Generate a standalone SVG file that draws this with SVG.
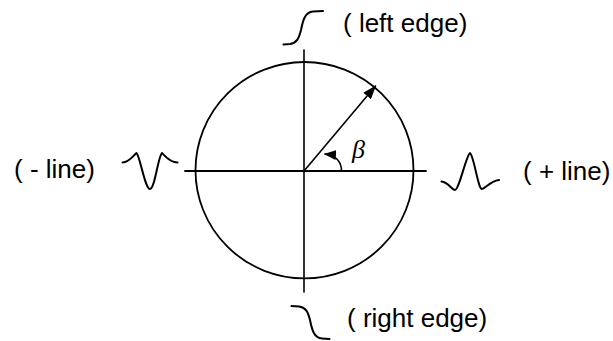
<svg xmlns="http://www.w3.org/2000/svg" width="613" height="341" viewBox="0 0 613 341">
<style>
.ln{fill:none;stroke:#000;stroke-width:1.6;stroke-linecap:round;stroke-linejoin:round}
.wv{fill:none;stroke:#000;stroke-width:2;stroke-linecap:round;stroke-linejoin:round}
.lbl{font-family:"Liberation Sans",Arial,sans-serif;font-size:26px;fill:#000}
.gr{font-family:"Liberation Serif","Times New Roman",serif;font-style:italic;font-size:26px;fill:#000}
</style>
<defs>
<marker id="ah" markerWidth="14" markerHeight="10" refX="13" refY="5" orient="auto" markerUnits="userSpaceOnUse">
<path d="M0,0 L14,5 L0,10 Z" fill="#000"/>
</marker>
<marker id="ah2" markerWidth="12" markerHeight="10" refX="11" refY="5" orient="auto" markerUnits="userSpaceOnUse">
<path d="M0,0 L12,5 L0,10 Z" fill="#000"/>
</marker>
</defs>
<rect width="613" height="341" fill="#fff"/>
<g id="circle">
<ellipse cx="304.5" cy="170.2" rx="109" ry="108.2" class="ln" style="stroke-width:1.8"/>
</g>
<g id="connectors">
<line x1="304" y1="50" x2="304" y2="292" class="ln"/>
<line x1="185" y1="171" x2="426" y2="171" class="ln" style="stroke-width:1.8"/>
<line x1="304" y1="171" x2="375.5" y2="86" class="ln" marker-end="url(#ah)"/>
<path d="M341.5,171 C341.5,162 336,155 325,154" class="ln" marker-end="url(#ah2)"/>
</g>
<g id="beta">
<text x="352" y="158" class="gr">β</text>
</g>
<g id="left-edge">
<path d="M283.5,44.5 L290,44 C297,43 299,38 301,30 C303,20 305,12 313,11.5 L323,11" class="wv"/>
<text x="343" y="32" class="lbl">( left edge)</text>
</g>
<g id="right-edge">
<path d="M291.5,306 L299,306.5 C306,307.5 308,312 310,320 C312,330 314,338 322,338.5 L329.5,339" class="wv"/>
<text x="347" y="327" class="lbl">( right edge)</text>
</g>
<g id="minus-line">
<path d="M122.5,162.5 C129,162.5 133,156 136.5,153 C140,156 145,189 150,189 C155,189 158,156 162,153 C165,156 170,162.5 177.5,162.5" class="wv"/>
<text x="14" y="178" class="lbl">( - line)</text>
</g>
<g id="plus-line">
<path d="M441.5,181.5 C448,182 452,190 455,190 C459,190 466,156 470,153 C474,156 478,189 482,189 C485,189 490,181 499,180" class="wv"/>
<text x="523" y="180" class="lbl">( + line)</text>
</g>
</svg>
